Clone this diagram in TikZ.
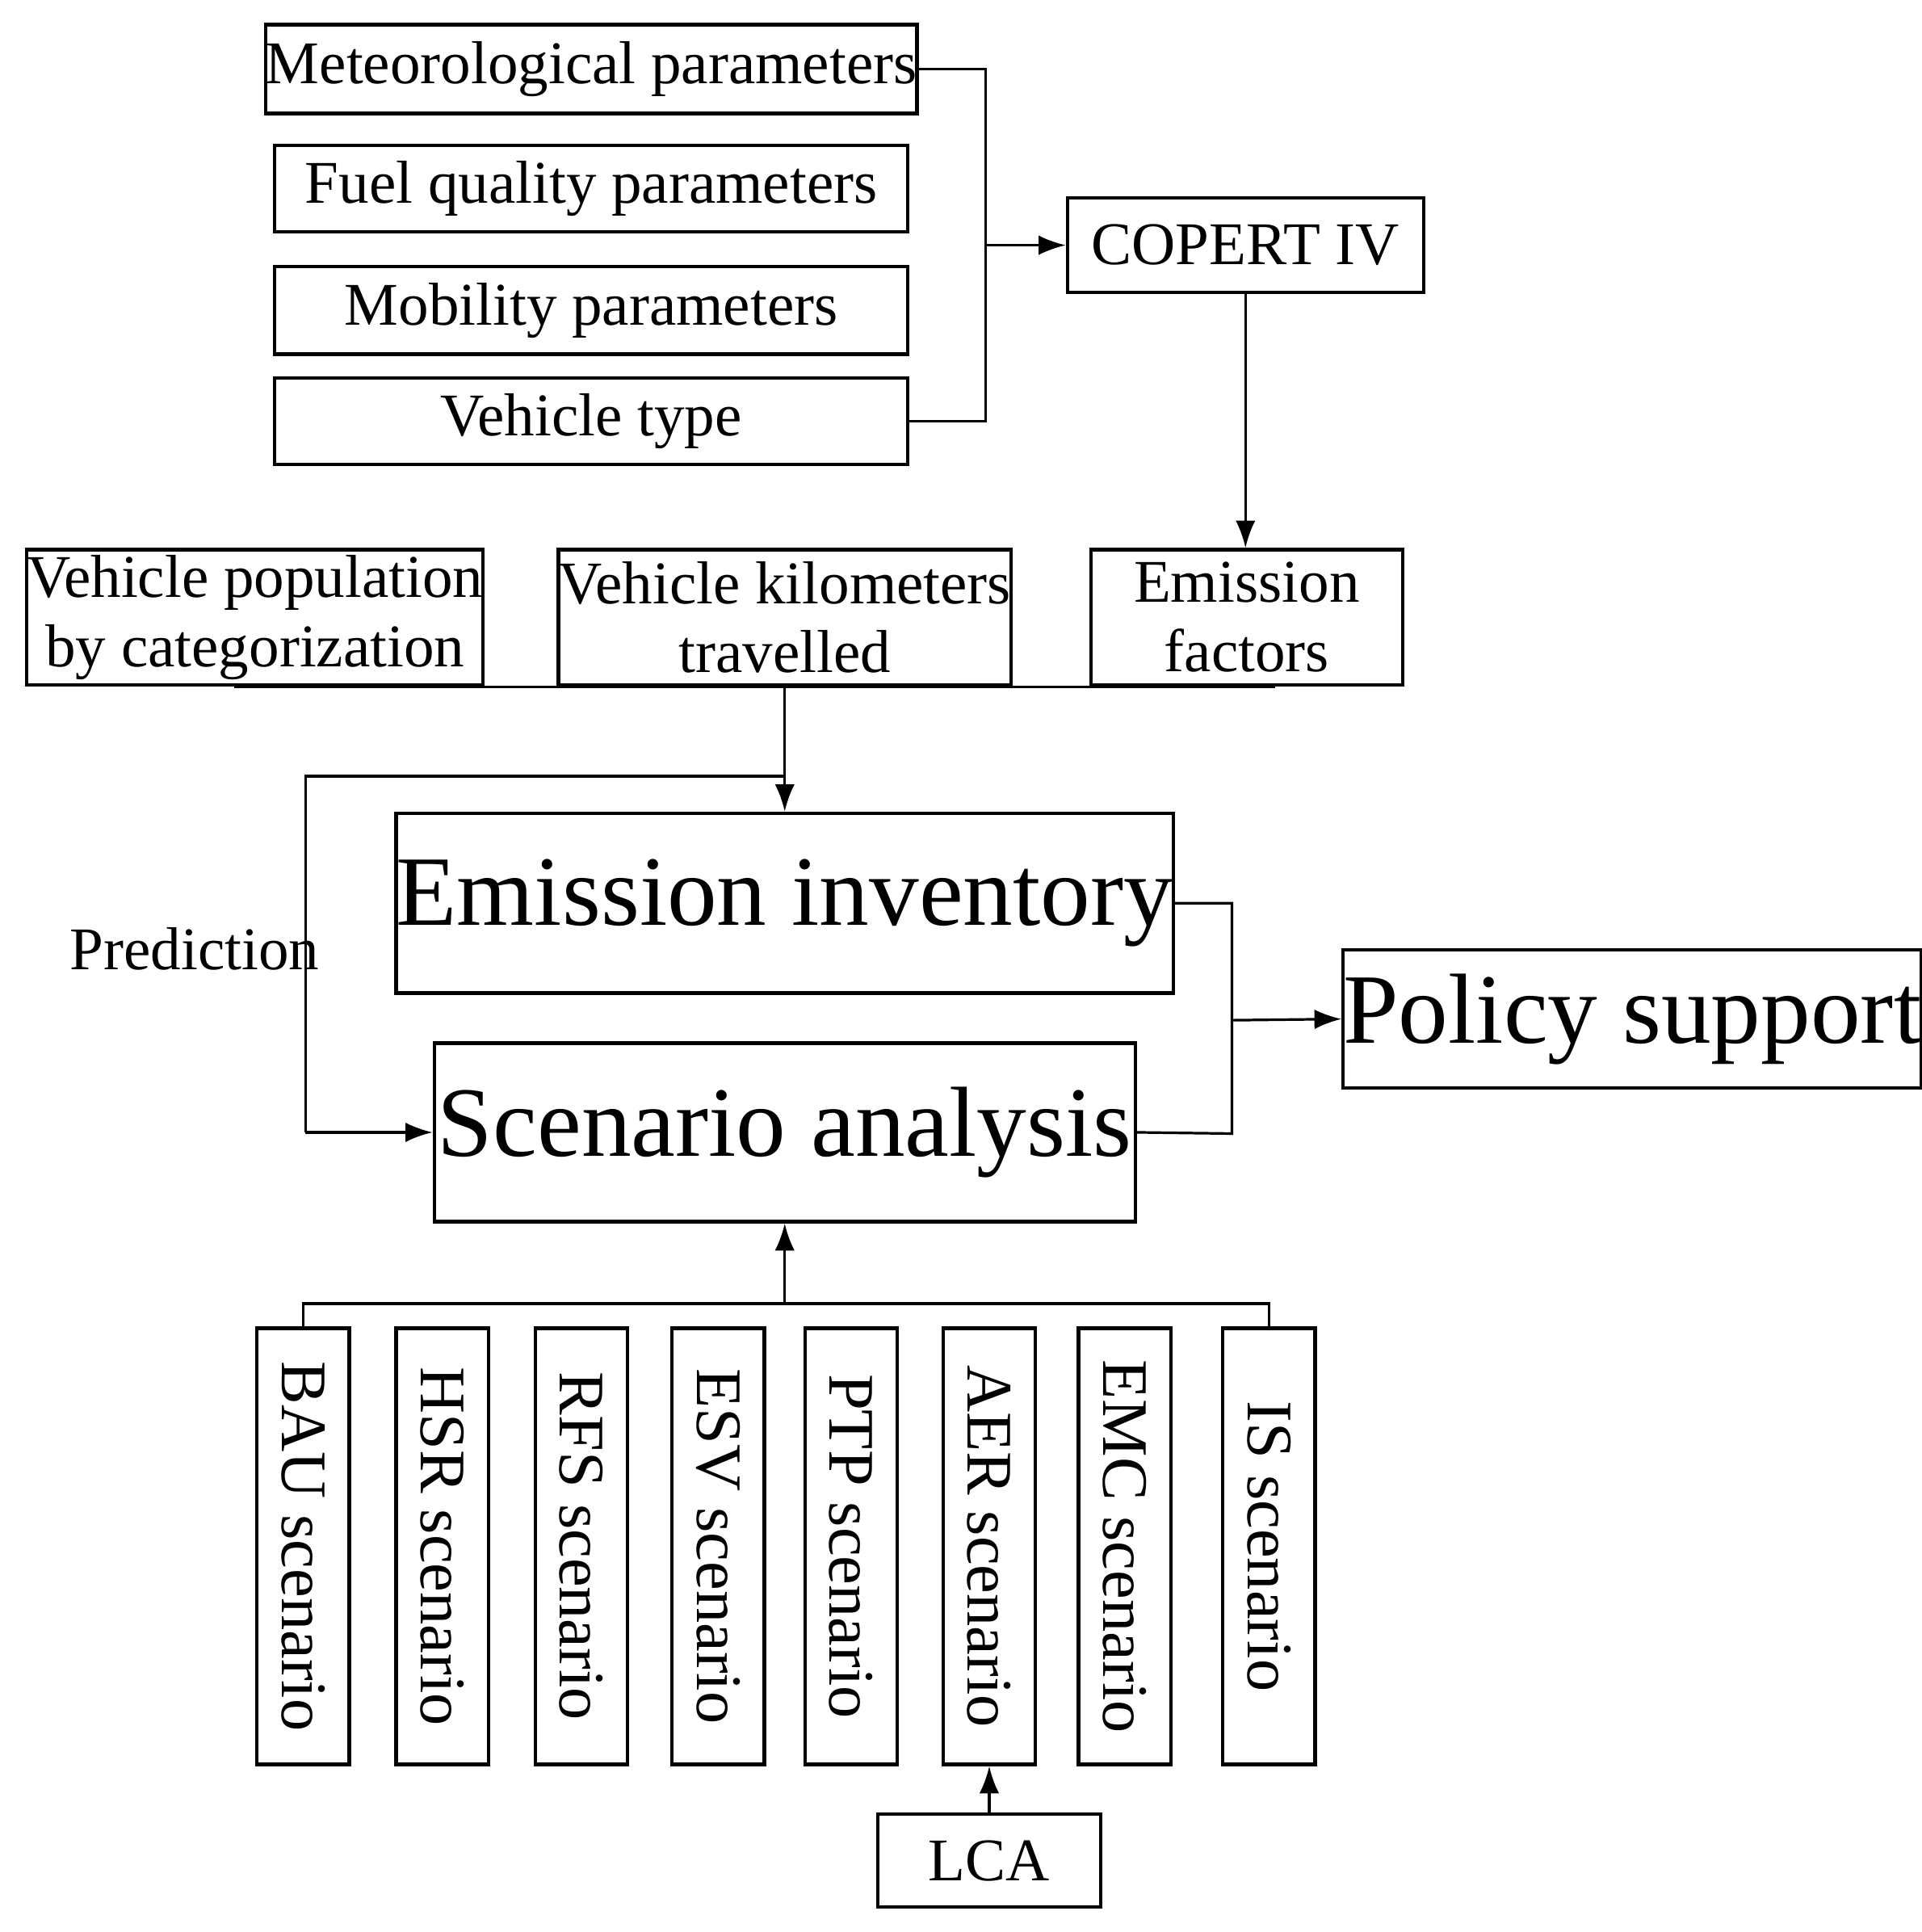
\documentclass[tikz,border=0pt]{standalone}
\usepackage{fontspec}
\setmainfont{Liberation Serif}
\usetikzlibrary{arrows.meta}
\begin{document}
\begin{tikzpicture}[x=0.1mm,y=-0.1mm,
 bx/.style={draw,line width=0.8pt,inner sep=0pt,align=center},
 sm/.style={font=\fontsize{14}{16}\selectfont},
 big/.style={font=\fontsize{23}{26}\selectfont},
 sc/.style={bx,minimum width=7.5mm,minimum height=35.4mm,font=\fontsize{15}{17}\selectfont},
 ln/.style={line width=0.6pt},
 ar/.style={ln,-{Latex[length=2.2mm,width=1.6mm]}}]
\useasboundingbox (0,0) rectangle (1560,1568);
\node[bx,sm,minimum width=51.4mm,minimum height=7.2mm] (met) at (480,56) {Meteorological parameters};
\node[bx,sm,minimum width=51.4mm,minimum height=7.0mm] (fuel) at (480,153) {Fuel quality parameters};
\node[bx,sm,minimum width=51.4mm,minimum height=7.1mm] (mob) at (480,252) {Mobility parameters};
\node[bx,sm,minimum width=51.4mm,minimum height=7.0mm] (veh) at (480,342) {Vehicle type};
\node[bx,sm,minimum width=28.9mm,minimum height=7.7mm] (cop) at (1011,199) {COPERT IV};
\node[bx,sm,minimum width=36.5mm,minimum height=11mm] (pop) at (207,501) {Vehicle population\\by categorization};
\node[bx,sm,minimum width=36.5mm,minimum height=11mm] (vkt) at (637,501) {Vehicle kilometers\\travelled};
\node[bx,sm,minimum width=25.3mm,minimum height=11mm] (ef) at (1012,501) {Emission\\factors};
\node[bx,big,minimum width=56.9mm,minimum height=14.6mm] (ei) at (637,733) {Emission inventory};
\node[bx,big,minimum width=56.9mm,minimum height=14.5mm] (sa) at (637,919) {Scenario analysis};
\node[bx,big,minimum width=44.2mm,minimum height=11.2mm] (ps) at (1325,827) {Policy support};
\node[sm] (pred) at (158,770) {Prediction};
\foreach \n/\x/\t in {bau/246/BAU,hsr/359/HSR,rfs/472/RFS,esv/583/ESV,ptp/691/PTP,aer/803/AER,emc/913/EMC,is/1030/IS}
  \node[sc] (\n) at (\x,1255) {\rotatebox{-90}{\t\ scenario}};
\node[bx,sm,minimum width=18.1mm,minimum height=7.5mm] (lca) at (803,1510) {LCA};
% COPERT inputs
\coordinate (bx) at (800,199);
\draw[ln] (met.east) -| (800,342) -- (veh.east);
\draw[ar] (bx) -- (cop.west);
\draw[ar] (cop.south -| 1011,0) -- (ef.north -| 1011,0);
% to inventory
\draw[ln] (pop.south -| 190,0) |- (ef.south -| 1035,603) -- (ef.south -| 1035,0);
\draw[ar] (vkt.south) -- (ei.north);
\draw[ln] (637,630) -- (248,630) -- (248,919);
\draw[ar] (248,919) -- (sa.west);
% policy
\draw[ln] (ei.east) -| (1000,920) -- (sa.east);
\draw[ar] (1000,828) -- (ps.west);
% scenarios
\draw[ln] (bau.north) -- (246,1058) -- (1030,1058) -- (is.north);
\draw[ar] (637,1058) -- (sa.south);
\draw[ar] (lca.north) -- (aer.south);
\end{tikzpicture}
\end{document}
